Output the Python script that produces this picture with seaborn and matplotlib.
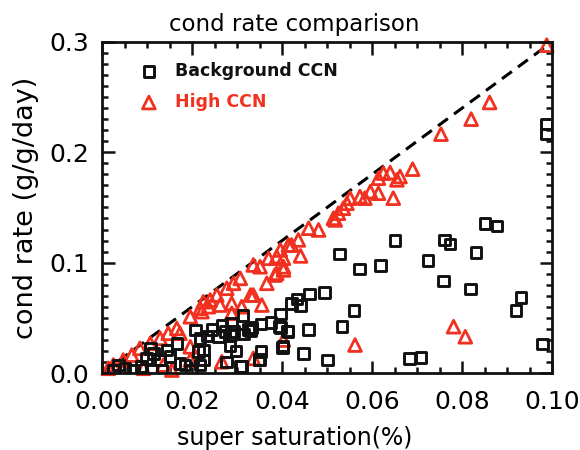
import numpy as np
import pandas as pd
import matplotlib
matplotlib.use("Agg")
import matplotlib.pyplot as plt
import seaborn as sns
from matplotlib.ticker import MultipleLocator, FormatStrFormatter

# ---- data ----
bg_x = [0.0851, 0.0877, 0.0761, 0.0773, 0.0831, 0.0724, 0.0758, 0.0818, 0.0931, 0.0920,
        0.0979, 0.0683, 0.0709, 0.0651, 0.0988, 0.0988,
        0.0527, 0.0572, 0.0618, 0.0461, 0.0494, 0.0433, 0.0421, 0.0441, 0.0560, 0.0397,
        0.0375, 0.0353, 0.0330, 0.0397, 0.0413, 0.0458, 0.0533, 0.0401, 0.0447, 0.0353,
        0.0349, 0.0501,
        0.0313, 0.0288, 0.0266, 0.0244, 0.0273, 0.0292, 0.0233, 0.0218, 0.0259, 0.0286,
        0.0314, 0.0325, 0.0333, 0.0394, 0.0412, 0.0284, 0.0298, 0.0350, 0.0402,
        0.0310, 0.0225, 0.0225, 0.0276, 0.0307,
        0.0207, 0.0107, 0.0114, 0.0099, 0.0144, 0.0166, 0.0151, 0.0129, 0.0173, 0.0184,
        0.0214, 0.0218, 0.0036, 0.0051, 0.0070, 0.0088, 0.0110, 0.0133, 0.0025, 0.0199]
bg_y = [0.1357, 0.1333, 0.1206, 0.1170, 0.1091, 0.1018, 0.0834, 0.0762, 0.0683, 0.0565,
        0.0263, 0.0130, 0.0139, 0.1200, 0.2257, 0.2167,
        0.1079, 0.0943, 0.0973, 0.0716, 0.0731, 0.0671, 0.0632, 0.0610, 0.0565, 0.0535,
        0.0460, 0.0444, 0.0384, 0.0414, 0.0374, 0.0396, 0.0420, 0.0233, 0.0179, 0.0193,
        0.0118, 0.0118,
        0.0520, 0.0450, 0.0435, 0.0396, 0.0375, 0.0375, 0.0335, 0.0315, 0.0329, 0.0344,
        0.0354, 0.0396, 0.0414, 0.0420, 0.0381, 0.0245, 0.0199, 0.0124, 0.0245,
        0.0057, 0.0208, 0.0118, 0.0102, 0.0057,
        0.0390, 0.0224, 0.0179, 0.0133, 0.0209, 0.0269, 0.0148, 0.0118, 0.0088, 0.0073,
        0.0193, 0.0073, 0.0073, 0.0043, 0.0027, 0.0057, 0.0027, 0.0027, 0.0027, 0.0027]

hi_x = [0.0988, 0.0861, 0.0820, 0.0753, 0.0690, 0.0662,
        0.0625, 0.0640, 0.0614, 0.0655, 0.0647, 0.0614, 0.0596, 0.0584, 0.0573, 0.0551,
        0.0544, 0.0536, 0.0525, 0.0514, 0.0518, 0.0459, 0.0481, 0.0436, 0.0421, 0.0441,
        0.0396, 0.0403, 0.0388, 0.0370, 0.0351, 0.0336, 0.0384, 0.0403, 0.0366, 0.0336,
        0.0355, 0.0403, 0.0562, 0.0336, 0.0781, 0.0807, 0.0414, 0.0403,
        0.0330, 0.0288, 0.0288, 0.0262, 0.0236, 0.0222, 0.0292, 0.0307, 0.0277, 0.0255,
        0.0240, 0.0266, 0.0388, 0.0310, 0.0225,
        0.0218, 0.0196, 0.0166, 0.0147, 0.0129, 0.0173, 0.0107, 0.0084, 0.0066, 0.0047,
        0.0025, 0.0014, 0.0196, 0.0196, 0.0092, 0.0136, 0.0155]
hi_y = [0.2970, 0.2451, 0.2300, 0.2164, 0.1847, 0.1780,
        0.1811, 0.1816, 0.1765, 0.1750, 0.1584, 0.1629, 0.1643, 0.1584, 0.1598, 0.1584,
        0.1538, 0.1493, 0.1448, 0.1402, 0.1387, 0.1312, 0.1296, 0.1206, 0.1160, 0.1061,
        0.1115, 0.1040, 0.1054, 0.1040, 0.0963, 0.0979, 0.0888, 0.0934, 0.0813, 0.0707,
        0.0616, 0.0299, 0.0254, 0.0133, 0.0420, 0.0329, 0.1160, 0.0963,
        0.0707, 0.0632, 0.0541, 0.0616, 0.0601, 0.0556, 0.0813, 0.0858, 0.0768, 0.0707,
        0.0662, 0.0102, 0.0904, 0.0601, 0.0646,
        0.0587, 0.0510, 0.0405, 0.0360, 0.0315, 0.0360, 0.0269, 0.0224, 0.0163, 0.0118,
        0.0073, 0.0043, 0.0238, 0.0118, 0.0043, 0.0073, 0.0027]

ref_x = [0.0, 0.1]
ref_y = [0.0, 0.3]

series_names = ["Background CCN", "High CCN"]
x_ticks = [0.00, 0.02, 0.04, 0.06, 0.08, 0.10]
y_ticks = [0.0, 0.1, 0.2, 0.3]

# ---- plot ----
sns.set_style("white")
plt.rcParams['font.family'] = ['DejaVu Sans']
plt.rcParams['text.color'] = 'black'
plt.rcParams['axes.labelcolor'] = 'black'
RED = "#f2301f"
INK = "#111111"

fig = plt.figure(figsize=(5.8, 4.5), dpi=100)
ax = fig.add_axes([0.176, 0.171, 0.776, 0.736])

bg = pd.DataFrame({"x": bg_x, "y": bg_y})
hi = pd.DataFrame({"x": hi_x, "y": hi_y})

sns.lineplot(x=ref_x, y=ref_y, ax=ax, color="black", linestyle=(0, (4, 2.5)),
             linewidth=2.2, zorder=1)
sns.scatterplot(data=bg, x="x", y="y", ax=ax, marker="s", s=58,
                facecolor="none", edgecolor=INK, linewidth=2.1,
                label=series_names[0], zorder=3)
sns.scatterplot(data=hi, x="x", y="y", ax=ax, marker="^", s=85,
                facecolor="none", edgecolor=RED, linewidth=2.0,
                label=series_names[1], zorder=2, clip_on=False)

ax.set_xlim(0, 0.1)
ax.set_ylim(0, 0.3)
ax.set_xticks(x_ticks)
ax.set_yticks(y_ticks)
ax.xaxis.set_major_formatter(FormatStrFormatter('%.2f'))
ax.yaxis.set_major_formatter(FormatStrFormatter('%.1f'))
ax.xaxis.set_minor_locator(MultipleLocator(0.005))
ax.yaxis.set_minor_locator(MultipleLocator(0.01))
ax.tick_params(which="both", direction="in", top=True, right=True,
               bottom=True, left=True, width=1.8, color=INK, labelcolor="black")
ax.tick_params(which="major", length=9, labelsize=18, pad=9)
ax.tick_params(axis="x", which="major", pad=12)
ax.tick_params(which="minor", length=4.5)
for sp in ax.spines.values():
    sp.set_linewidth(2.0)
    sp.set_color(INK)

ax.set_xlabel("super saturation(%)", fontsize=17, labelpad=4)
ax.xaxis.set_label_coords(0.427, -0.16)
ax.set_ylabel("cond rate (g/g/day)", fontsize=19.5, labelpad=8)
ax.set_title("cond rate comparison", fontsize=16.5, x=0.427, pad=8)

leg = ax.legend(loc="upper left", frameon=False, fontsize=12.5,
                bbox_to_anchor=(0.05, 0.96), handletextpad=0.5,
                labelspacing=0.75, borderaxespad=0)
for t, c in zip(leg.get_texts(), [INK, RED]):
    t.set_color(c)
    t.set_fontweight("bold")

fig.savefig("out.png", dpi=100, facecolor="white")
